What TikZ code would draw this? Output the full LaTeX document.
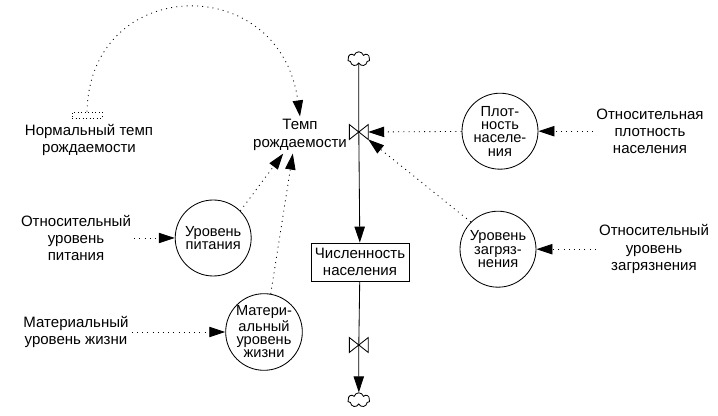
\documentclass[tikz,border=0pt]{standalone}
\usepackage{fontspec}
\setmainfont{Liberation Sans}
\usepackage{tikz}
\usetikzlibrary{arrows.meta,shapes.symbols,positioning}
\tikzset{
  tip/.style={-{Triangle[length=0.4cm,width=0.26cm]}},
  lbl/.style={align=center,inner sep=2pt,font=\fontsize{10.7}{12.3}\selectfont},
  aux/.style={circle,draw,minimum size=1.9cm,inner sep=0pt,align=center,font=\fontsize{10.4}{9.5}\selectfont},
  level/.style={draw,minimum width=2.45cm,minimum height=0.95cm,inner sep=1pt,align=center,font=\fontsize{10.7}{12.3}\selectfont},
  info/.style={tip,dash pattern=on 0.7pt off 3pt},
  valve/.style={minimum width=0.45cm,minimum height=0.35cm,inner sep=0pt},
  sink/.style={cloud,draw,cloud puffs=7,aspect=1.6,minimum width=0.55cm,minimum height=0.36cm,inner sep=0pt},
  ghost/.style={draw,dash pattern=on 0.5pt off 2pt,minimum width=0.75cm,minimum height=0.15cm,inner sep=0pt}
}
\begin{document}
\begin{tikzpicture}[line width=0.6pt]
      \useasboundingbox (0,0) rectangle (17.95,-10.4);
      \node[sink] at (8.97,-1.475) (ctop) {};
      \node[valve] at (8.97,-3.3) (v1) {};
      \node[level] at (9.0,-6.55) (pop) {Численность\\населения};
      \node[valve] at (8.97,-8.625) (v2) {};
      \node[sink] at (8.97,-10.0) (cbot) {};
      \draw (v1.north west)--(v1.south east)--(v1.north east)--(v1.south west)--cycle;
      \draw (v2.north west)--(v2.south east)--(v2.north east)--(v2.south west)--cycle;
      \draw[tip] (ctop)--(v1.center)--(pop);
      \draw[tip] (pop)--(v2.center)--(cbot);
      \node[lbl] at (7.5,-3.375) (temp) {Темп\\рождаемости};
      \node[ghost] at (2.175,-2.875) (ngh) {};
      \node[lbl] at (2.225,-3.5) (norm) {Нормальный темп\\рождаемости};
      \node[aux] at (5.33,-5.95) (pit) {Уровень\\питания};
      \node[lbl] at (1.9,-5.95) (otnpit) {Относительный\\уровень\\питания};
      \node[aux] at (6.6,-8.3) (mat) {Матери-\\альный\\уровень\\жизни};
      \node[lbl] at (1.9,-8.3) (matlbl) {Материальный\\уровень жизни};
      \node[aux] at (12.5,-3.28) (plo) {Плот-\\ность\\населе-\\ния};
      \node[lbl] at (16.25,-3.28) (otnplo) {Относительная\\плотность\\населения};
      \node[aux] at (12.45,-6.23) (zag) {Уровень\\загряз-\\нения};
      \node[lbl] at (16.35,-6.23) (otnzag) {Относительный\\уровень\\загрязнения};
      \draw[info] (ngh.north) .. controls (2.25,0.625) and (7.0,0.75) .. (temp.north);
      \draw[info] (pit.45)--([xshift=-0.42cm]temp.south);
      \draw[info] (mat.80)--([xshift=-0.18cm]temp.south);
      \draw[info] (plo)--(v1.east);
      \draw[info] (zag.135)--(v1.south east);
      \draw[info] (otnpit)--(pit);
      \draw[info] (matlbl)--(mat);
      \draw[info] (otnplo)--(plo);
      \draw[info] (otnzag)--(zag);
    \end{tikzpicture}
\end{document}
